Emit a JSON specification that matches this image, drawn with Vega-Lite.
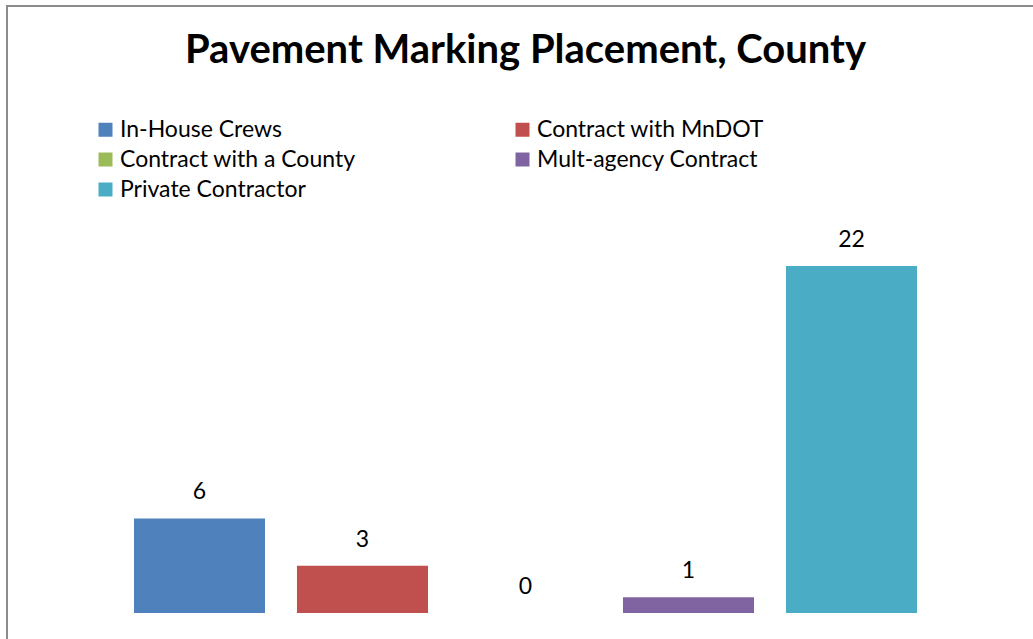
{
  "$schema": "https://vega.github.io/schema/vega-lite/v6.json",
  "autosize": "none",
  "padding": {"left": 7, "top": 6, "right": 0, "bottom": 0},
  "width": 1037,
  "height": 640,
  "background": "white",
  "config": {
    "view": {"stroke": "#8c8c8c", "strokeWidth": 2},
    "font": "Lato"
  },
  "title": {
    "text": "Pavement Marking Placement, County",
    "font": "Lato",
    "fontSize": 40,
    "fontWeight": "bold",
    "color": "#000000",
    "anchor": "middle",
    "baseline": "alphabetic",
    "offset": -97
  },
  "data": {
    "values": [
      {"series": "In-House Crews", "value": 6},
      {"series": "Contract with MnDOT", "value": 3},
      {"series": "Contract with a County", "value": 0},
      {"series": "Mult-agency Contract", "value": 1},
      {"series": "Private Contractor", "value": 22}
    ]
  },
  "encoding": {
    "x": {
      "field": "series",
      "type": "nominal",
      "sort": null,
      "axis": null,
      "scale": {"paddingInner": 0.196, "paddingOuter": 0.779}
    },
    "y": {
      "field": "value",
      "type": "quantitative",
      "axis": null,
      "scale": {"domain": [-2.09, 38.49], "zero": false, "nice": false}
    }
  },
  "layer": [
    {
      "mark": {"type": "bar"},
      "encoding": {
        "color": {
          "field": "series",
          "type": "nominal",
          "sort": null,
          "scale": {
            "domain": ["In-House Crews", "Contract with MnDOT", "Contract with a County", "Mult-agency Contract", "Private Contractor"],
            "range": ["#4f81bd", "#c0504d", "#9bbb59", "#8064a2", "#4bacc6"]
          },
          "legend": {
            "title": null,
            "orient": "none",
            "legendX": 87,
            "legendY": 112,
            "columns": 2,
            "direction": "horizontal",
            "columnPadding": 155,
            "rowPadding": 6,
            "padding": 0,
            "symbolType": "square",
            "symbolSize": 196,
            "symbolStrokeWidth": 0,
            "symbolOpacity": 1,
            "labelFont": "Lato",
            "labelFontSize": 23,
            "labelColor": "#000000",
            "labelOffset": 3,
            "labelLimit": 400
          }
        }
      }
    },
    {
      "mark": {"type": "text", "font": "Lato", "fontSize": 23, "color": "#000000", "baseline": "alphabetic", "dy": -19},
      "encoding": {
        "text": {"field": "value", "type": "quantitative"}
      }
    }
  ]
}
